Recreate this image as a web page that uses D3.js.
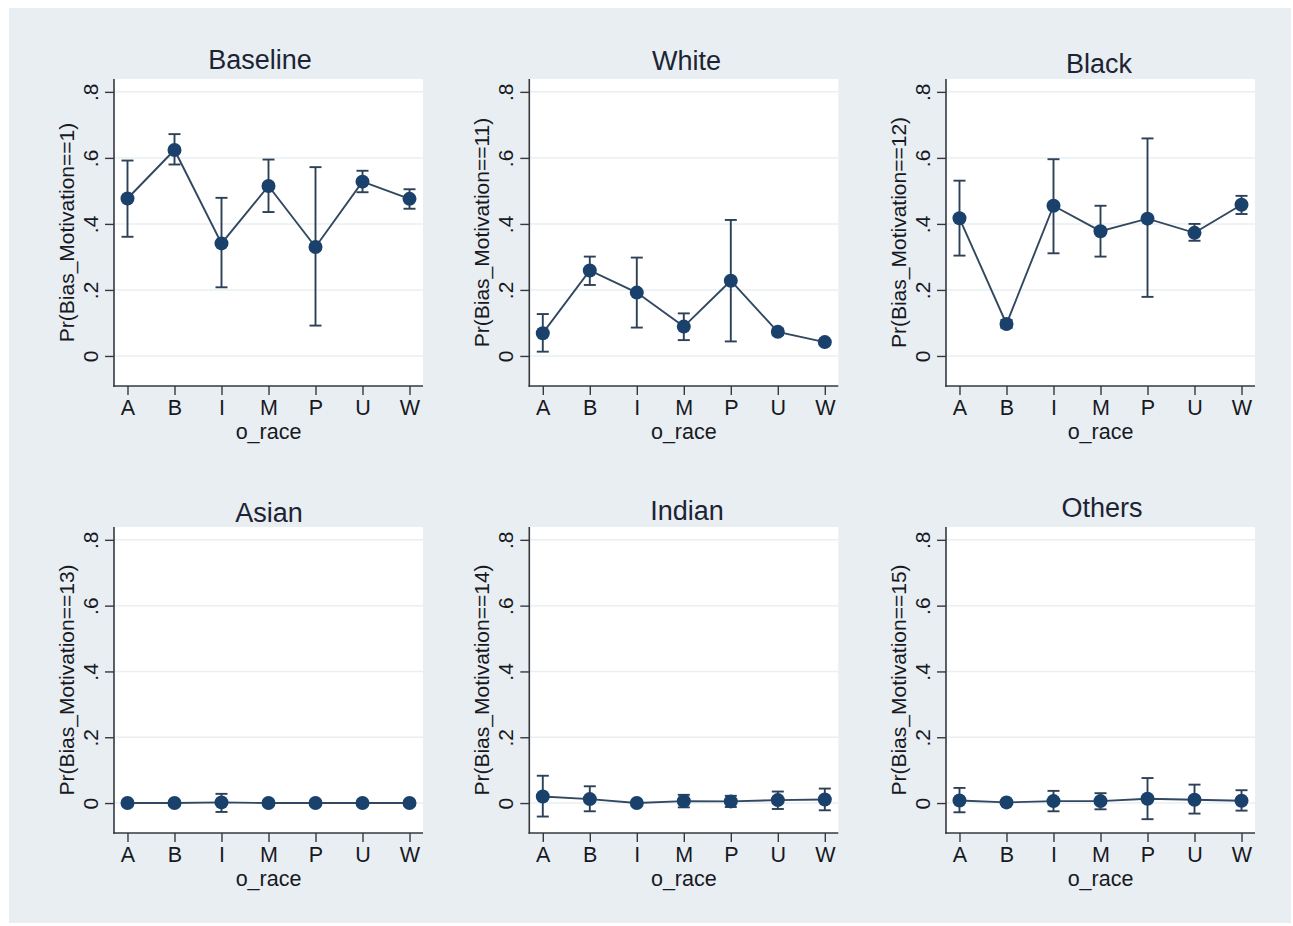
<!DOCTYPE html>
<html><head><meta charset="utf-8">
<script src="https://cdn.jsdelivr.net/npm/d3@7"></script>
<style>body{margin:0;background:#fff}svg{display:block}</style>
</head><body><svg id="c" width="1293" height="926"></svg>
<script>
// ---------- data ----------
const categories = ["A", "B", "I", "M", "P", "U", "W"];
const panelTitles = ["Baseline", "White", "Black", "Asian", "Indian", "Others"];
const yAxisTitles = ["Pr(Bias_Motivation==1)", "Pr(Bias_Motivation==11)", "Pr(Bias_Motivation==12)",
                     "Pr(Bias_Motivation==13)", "Pr(Bias_Motivation==14)", "Pr(Bias_Motivation==15)"];
const xAxisTitle = "o_race";
const yTicks = [0, 0.2, 0.4, 0.6, 0.8];
const yTickLabels = ["0", ".2", ".4", ".6", ".8"];

const baselineMean  = [0.477, 0.624, 0.341, 0.515, 0.330, 0.528, 0.476];
const baselineLower = [0.361, 0.580, 0.208, 0.436, 0.092, 0.496, 0.446];
const baselineUpper = [0.592, 0.672, 0.479, 0.595, 0.572, 0.561, 0.505];

const whiteMean  = [0.069, 0.259, 0.192, 0.089, 0.228, 0.073, 0.042];
const whiteLower = [0.013, 0.215, 0.086, 0.048, 0.044, 0.063, 0.036];
const whiteUpper = [0.127, 0.301, 0.298, 0.129, 0.412, 0.083, 0.048];

const blackMean  = [0.417, 0.097, 0.455, 0.378, 0.416, 0.373, 0.458];
const blackLower = [0.304, 0.085, 0.311, 0.301, 0.179, 0.349, 0.430];
const blackUpper = [0.531, 0.109, 0.596, 0.455, 0.659, 0.400, 0.485];

const asianMean  = [0.000, 0.000, 0.002, 0.000, 0.000, 0.000, 0.000];
const asianLower = [0.000, 0.000, -0.027, 0.000, 0.000, 0.000, 0.000];
const asianUpper = [0.000, 0.000, 0.028, 0.000, 0.000, 0.000, 0.000];

const indianMean  = [0.020, 0.012, 0.000, 0.006, 0.005, 0.009, 0.011];
const indianLower = [-0.041, -0.025, 0.000, -0.013, -0.012, -0.018, -0.022];
const indianUpper = [0.083, 0.051, 0.000, 0.025, 0.022, 0.035, 0.044];

const othersMean  = [0.008, 0.002, 0.006, 0.006, 0.013, 0.010, 0.007];
const othersLower = [-0.028, 0.002, -0.025, -0.019, -0.049, -0.032, -0.023];
const othersUpper = [0.046, 0.002, 0.037, 0.030, 0.076, 0.056, 0.039];

const panelSeries = [
  [baselineMean, baselineLower, baselineUpper],
  [whiteMean, whiteLower, whiteUpper],
  [blackMean, blackLower, blackUpper],
  [asianMean, asianLower, asianUpper],
  [indianMean, indianLower, indianUpper],
  [othersMean, othersLower, othersUpper]
];

// ---------- layout ----------
const colX = [[114, 423], [529.3, 838.3], [946, 1255]];
const rowY = [[79, 386], [527, 833]];
const yDomain = [-0.091, 0.839];
const titlePos = [[260, 69], [686.5, 70], [1099, 73], [269, 521.5], [687, 520], [1102, 517]];

const C = {
  bg: "#e9eef2", plot: "#ffffff", grid: "#e9eff2", axis: "#35393f",
  text: "#17191f", title: "#1c2434", marker: "#1a416b", line: "#324860", err: "#2c4157"
};
const FONT = "'Liberation Sans', Arial, Helvetica, sans-serif";

const svg = d3.select("#c");
svg.append("rect").attr("x", 9).attr("y", 8).attr("width", 1282).attr("height", 915).attr("fill", C.bg);

panelSeries.forEach((series, i) => {
  const [mean, lower, upper] = series;
  const [x0, x1] = colX[i % 3];
  const [y0, y1] = rowY[Math.floor(i / 3)];
  const x = d3.scalePoint().domain(categories).range([x0, x1]).padding(0.287);
  const y = d3.scaleLinear().domain(yDomain).range([y1, y0]);
  const g = svg.append("g");

  g.append("rect").attr("x", x0).attr("y", y0).attr("width", x1 - x0).attr("height", y1 - y0).attr("fill", C.plot);

  // gridlines
  g.selectAll("line.grid").data(yTicks).join("line").attr("class", "grid")
    .attr("x1", x0).attr("x2", x1).attr("y1", d => y(d)).attr("y2", d => y(d))
    .attr("stroke", C.grid).attr("stroke-width", 1.5);

  // y axis
  const yAx = g.append("g").attr("transform", `translate(${x0},0)`)
    .call(d3.axisLeft(y).tickValues(yTicks).tickSize(9).tickSizeOuter(0)
      .tickFormat((d, k) => yTickLabels[k]));
  yAx.select(".domain").remove();
  yAx.append("line").attr("x1", 0).attr("x2", 0).attr("y1", y0).attr("y2", y1 + 0.75)
    .attr("stroke", C.axis).attr("stroke-width", 1.6);
  yAx.selectAll(".tick line").attr("stroke", C.axis).attr("stroke-width", 1.4);
  yAx.selectAll(".tick text")
    .attr("x", 0).attr("dy", 0)
    .attr("transform", "translate(-16,0) rotate(-90)")
    .attr("text-anchor", "middle")
    .attr("font-family", FONT).attr("font-size", 21).attr("fill", C.text);

  // x axis
  const xAx = g.append("g").attr("transform", `translate(0,${y1})`)
    .call(d3.axisBottom(x).tickSize(9).tickSizeOuter(0));
  xAx.select(".domain").remove();
  xAx.append("line").attr("x1", x0 - 0.8).attr("x2", x1).attr("y1", 0).attr("y2", 0)
    .attr("stroke", C.axis).attr("stroke-width", 1.6);
  xAx.selectAll(".tick line").attr("stroke", C.axis).attr("stroke-width", 1.4);
  xAx.selectAll(".tick text").attr("y", 29).attr("dy", 0)
    .attr("font-family", FONT).attr("font-size", 21.5).attr("fill", C.text);

  // axis titles
  g.append("text").attr("x", (x0 + x1) / 2).attr("y", y1 + 53)
    .attr("text-anchor", "middle").attr("font-family", FONT).attr("font-size", 21.5)
    .attr("fill", C.text).text(xAxisTitle);
  g.append("text").attr("transform", `translate(${x0 - 40},${(y0 + y1) / 2}) rotate(-90)`)
    .attr("text-anchor", "middle").attr("font-family", FONT).attr("font-size", 21)
    .attr("fill", C.text).text(yAxisTitles[i]);

  // title
  g.append("text").attr("x", titlePos[i][0]).attr("y", titlePos[i][1])
    .attr("text-anchor", "middle").attr("font-family", FONT).attr("font-size", 27)
    .attr("fill", C.title).text(panelTitles[i]);

  const pts = categories.map((c, k) => ({c, m: mean[k], lo: lower[k], hi: upper[k]}));

  // connecting line
  g.append("path").datum(pts)
    .attr("d", d3.line().x(d => x(d.c)).y(d => y(d.m)))
    .attr("fill", "none").attr("stroke", C.line).attr("stroke-width", 1.9);

  // error bars
  const eb = g.selectAll("g.eb").data(pts.filter(d => d.hi - d.lo > 0.001)).join("g").attr("class", "eb");
  eb.append("line").attr("x1", d => x(d.c)).attr("x2", d => x(d.c))
    .attr("y1", d => y(d.lo)).attr("y2", d => y(d.hi))
    .attr("stroke", C.err).attr("stroke-width", 1.9);
  eb.append("line").attr("x1", d => x(d.c) - 6).attr("x2", d => x(d.c) + 6)
    .attr("y1", d => y(d.hi)).attr("y2", d => y(d.hi))
    .attr("stroke", C.err).attr("stroke-width", 1.9);
  eb.append("line").attr("x1", d => x(d.c) - 6).attr("x2", d => x(d.c) + 6)
    .attr("y1", d => y(d.lo)).attr("y2", d => y(d.lo))
    .attr("stroke", C.err).attr("stroke-width", 1.9);

  // markers
  g.selectAll("circle.pt").data(pts).join("circle").attr("class", "pt")
    .attr("cx", d => x(d.c)).attr("cy", d => y(d.m)).attr("r", 7)
    .attr("fill", C.marker);
});
</script>
</body></html>
